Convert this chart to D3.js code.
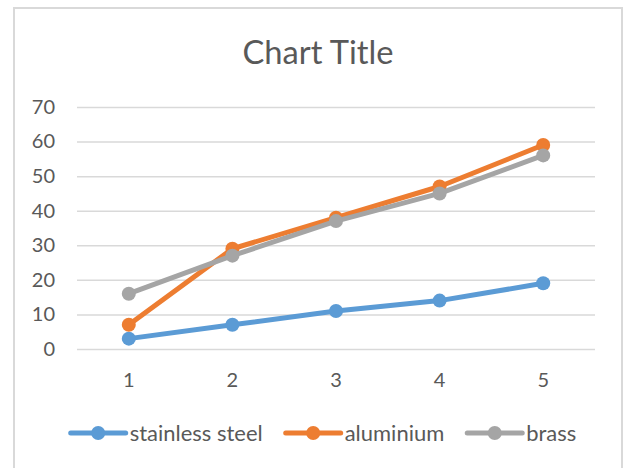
<!DOCTYPE html>
<html>
<head>
<meta charset="utf-8">
<script src="https://cdn.jsdelivr.net/npm/d3@7"></script>
<style>
  html, body { margin: 0; padding: 0; background: #fff; }
  svg { display: block; }
  text { font-family: Lato, "Open Sans", sans-serif; fill: #595959; }
</style>
</head>
<body>
<svg id="chart" width="625" height="468"></svg>
<script>
const categories = ["1", "2", "3", "4", "5"];
const seriesNames = ["stainless steel", "aluminium", "brass"];
const stainlessSteel = [3, 7, 11, 14, 19];
const aluminium = [7, 29, 38, 47, 59];
const brass = [16, 27, 37, 45, 56];
const yTicks = [0, 10, 20, 30, 40, 50, 60, 70];
const colors = ["#5B9BD5", "#ED7D31", "#A5A5A5"];

const series = [
  { name: seriesNames[0], values: stainlessSteel, color: colors[0] },
  { name: seriesNames[1], values: aluminium, color: colors[1] },
  { name: seriesNames[2], values: brass, color: colors[2] }
];

const svg = d3.select("#chart");

// fit a text element's font size to a target width
function fitWidth(sel, target, base) {
  sel.style("font-size", base + "px");
  const w = sel.node().getComputedTextLength();
  const size = base * target / w;
  sel.style("font-size", size.toFixed(2) + "px");
  return size;
}

// chart border
svg.append("rect")
  .attr("x", 14).attr("y", 8)
  .attr("width", 608).attr("height", 480)
  .attr("fill", "#fff").attr("stroke", "#D9D9D9").attr("stroke-width", 2);

// title
const title = svg.append("text")
  .attr("x", 318).attr("y", 64)
  .attr("text-anchor", "middle")
  .text("Chart Title");
fitWidth(title, 151, 31);

const plot = { left: 77, right: 595, top: 107, bottom: 349 };

const x = d3.scaleBand().domain(categories).range([plot.left, plot.right]);
const y = d3.scaleLinear().domain([0, 70]).range([plot.bottom, plot.top]);

// gridlines + y labels
const yAxis = d3.axisLeft(y).tickValues(yTicks).tickSize(-(plot.right - plot.left)).tickPadding(22);
const gy = svg.append("g").attr("transform", `translate(${plot.left},0)`).call(yAxis);
gy.select(".domain").remove();
gy.selectAll(".tick line").attr("stroke", "#D9D9D9").attr("stroke-width", 1.5);
gy.selectAll(".tick text")
  .style("font-size", "20px").style("font-family", "Lato, sans-serif")
  .attr("fill", "#595959");

// x axis labels
const xAxis = d3.axisBottom(x).tickSize(0).tickPadding(0);
const gx = svg.append("g").attr("transform", `translate(0,${plot.bottom})`).call(xAxis);
gx.select(".domain").remove();
gx.selectAll(".tick text")
  .attr("dy", null).attr("y", 38)
  .style("font-size", "20px").style("font-family", "Lato, sans-serif")
  .attr("fill", "#595959");

// lines + markers
const line = d3.line()
  .x((d, i) => x(categories[i]) + x.bandwidth() / 2)
  .y(d => y(d));

series.forEach(s => {
  svg.append("path")
    .datum(s.values)
    .attr("d", line)
    .attr("fill", "none")
    .attr("stroke", s.color)
    .attr("stroke-width", 5)
    .attr("stroke-linejoin", "round")
    .attr("stroke-linecap", "round");
  svg.append("g").selectAll("circle")
    .data(s.values)
    .join("circle")
    .attr("cx", (d, i) => x(categories[i]) + x.bandwidth() / 2)
    .attr("cy", d => y(d))
    .attr("r", 7)
    .attr("fill", s.color);
});

// legend
const legend = svg.append("g");
const lineLen = 55, textGap = 4, itemGap = 23;
const legendY = 433;
// measure font size so that the first label matches reference width
const probe = svg.append("text").text(seriesNames[0]);
const legendSize = fitWidth(probe, 133, 20);
probe.remove();
let cursor = 0;
series.forEach(s => {
  const g = legend.append("g");
  g.append("line")
    .attr("x1", 0).attr("x2", lineLen)
    .attr("y1", legendY).attr("y2", legendY)
    .attr("stroke", s.color).attr("stroke-width", 5)
    .attr("stroke-linecap", "round");
  g.append("circle").attr("cx", lineLen / 2).attr("cy", legendY).attr("r", 7).attr("fill", s.color);
  const t = g.append("text")
    .attr("x", lineLen + textGap).attr("y", legendY + 8)
    .style("font-size", legendSize.toFixed(2) + "px")
    .text(s.name);
  const w = t.node().getComputedTextLength();
  g.attr("transform", `translate(${cursor},0)`);
  cursor += lineLen + textGap + w + itemGap;
});
const totalW = cursor - itemGap;
legend.attr("transform", `translate(${323.5 - totalW / 2},0)`);
</script>
</body>
</html>
